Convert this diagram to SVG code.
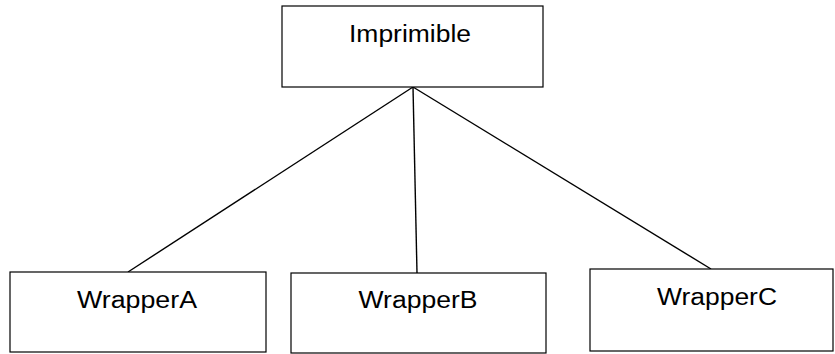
<svg xmlns="http://www.w3.org/2000/svg" width="835" height="354" viewBox="0 0 835 354">
  <style>
    .box { fill: #ffffff; stroke: #000000; stroke-width: 1.2; }
    .label { font-family: "Liberation Sans", Arial, sans-serif; font-size: 23px; fill: #000000; text-anchor: middle; }
    .link { stroke: #000000; stroke-width: 1.4; fill: none; }
  </style>
  <rect width="835" height="354" fill="#ffffff"/>

  <g id="connectors">
    <line class="link" x1="413" y1="87" x2="128" y2="272"/>
    <line class="link" x1="413" y1="87" x2="417" y2="273"/>
    <line class="link" x1="413" y1="87" x2="711" y2="269"/>
  </g>

  <g id="imprimible">
    <rect class="box" x="282" y="6" width="261" height="81"/>
    <text class="label" x="410" y="42" textLength="122" lengthAdjust="spacingAndGlyphs">Imprimible</text>
  </g>

  <g id="wrapperA">
    <rect class="box" x="10" y="272" width="256" height="80"/>
    <text class="label" x="137" y="308" textLength="120" lengthAdjust="spacingAndGlyphs">WrapperA</text>
  </g>

  <g id="wrapperB">
    <rect class="box" x="291" y="273" width="255" height="80"/>
    <text class="label" x="418" y="308" textLength="119" lengthAdjust="spacingAndGlyphs">WrapperB</text>
  </g>

  <g id="wrapperC">
    <rect class="box" x="590" y="269" width="243" height="82"/>
    <text class="label" x="717" y="305" textLength="120" lengthAdjust="spacingAndGlyphs">WrapperC</text>
  </g>
</svg>
